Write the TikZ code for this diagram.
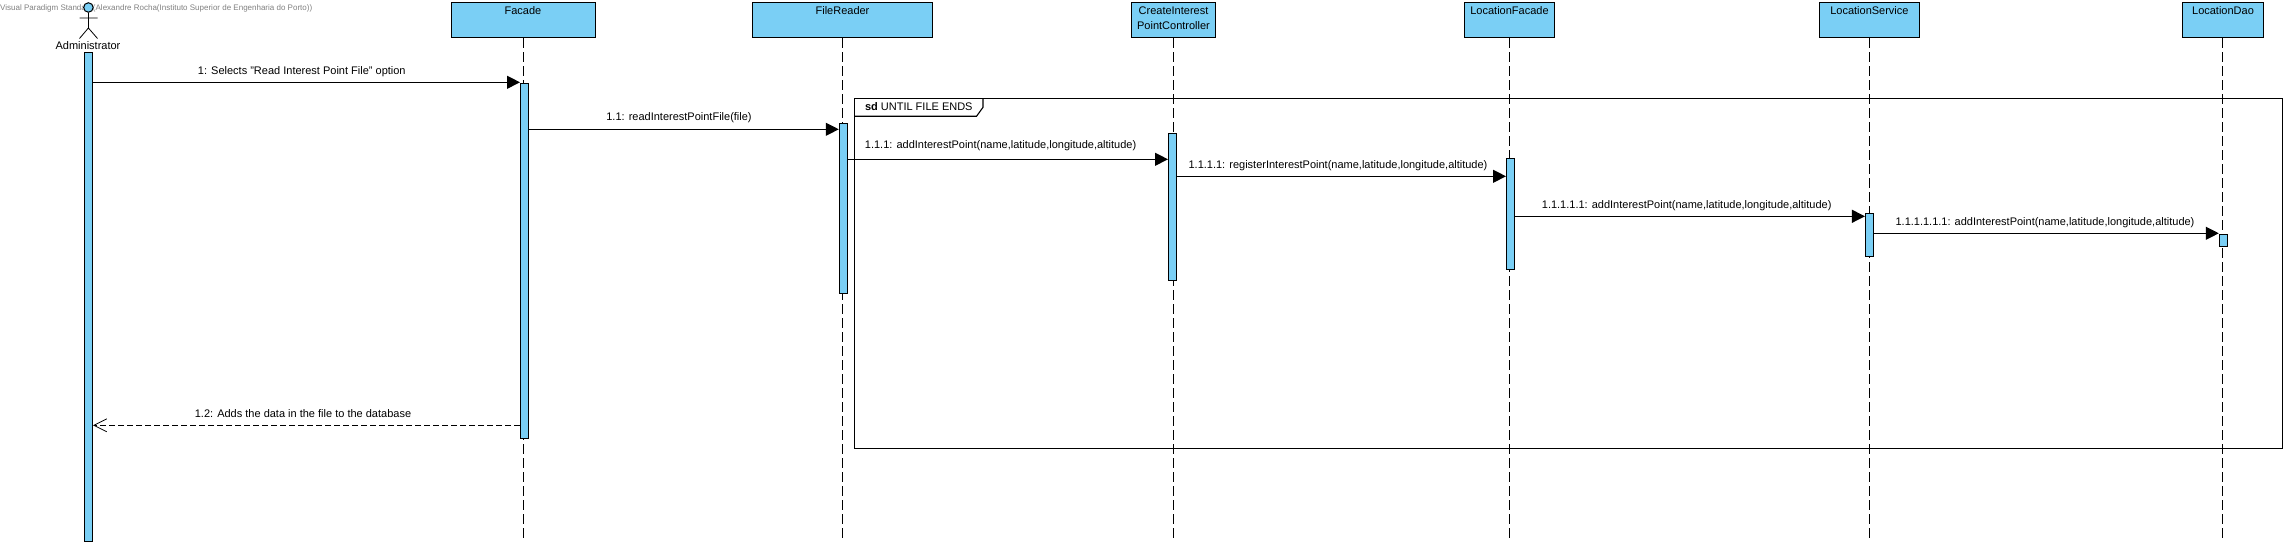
\documentclass[tikz,border=0pt]{standalone}
\usepackage{fontspec}
\setmainfont{Liberation Sans}
\usetikzlibrary{arrows.meta}
\definecolor{barblue}{RGB}{122,207,245}

\begin{document}
\begin{tikzpicture}
[x=1pt,y=-1pt,%%%%%%%%%%%%%%%%%%%%%%%%%%%%%%
box/.style={rectangle,draw=black,line width=1pt,fill=barblue,anchor=north,inner sep=0pt,
  align=center,font=\fontsize{11}{15}\selectfont,text height=12pt,text depth=23pt},
bar/.style={rectangle,draw=black,line width=1pt,fill=barblue,anchor=north,minimum width=8pt,inner sep=0pt},
life/.style={line width=0.9pt,dash pattern=on 10pt off 4pt},
msg/.style={line width=1.1pt,-{Triangle[length=13pt,width=13pt]}},
back/.style={line width=1.1pt,dash pattern=on 6pt off 3pt,-{Straight Barb[length=13pt,width=13pt,line width=0.8pt]}},
txt/.style={font=\fontsize{11}{14}\selectfont,inner sep=0pt},
]%%%%%%%%%%%%%%%%%%%%%%%%%%%%%%
\useasboundingbox (0,0) rectangle (2286,545);

\node[font=\fontsize{8}{10}\selectfont,text=gray,anchor=west,inner sep=0pt] (mark) at (0,8)
  {Visual Paradigm Standard(Alexandre Rocha(Instituto Superior de Engenharia do Porto))};

% the objects
\node[box,minimum width=144pt] (facade) at (523,2.3) {Facade};
\node[box,minimum width=180pt] (reader) at (842.5,2.3) {FileReader};
\node[box,minimum width=84pt,text height=27pt,text depth=8pt] (control) at (1173.5,2.3) {CreateInterest\\PointController};
\node[box,minimum width=90pt] (locfacade) at (1509.5,2.3) {LocationFacade};
\node[box,minimum width=100pt] (locservice) at (1869.4,2.3) {LocationService};
\node[box,minimum width=81pt] (locdao) at (2223,2.3) {LocationDao};

% the actor
\node[circle,draw=black,line width=1pt,fill=barblue,minimum size=9.5pt,inner sep=0pt] (head) at (88.4,7.5) {};
\coordinate (hip) at (88.4,28);
\coordinate (armA) at (79.5,18);
\coordinate (armB) at (97.5,18);
\coordinate (legA) at (79.5,38.5);
\coordinate (legB) at (97.5,38.5);
\draw[line width=0.8pt] (head) -- (hip) (armA) -- (armB) (legA) -- (hip) -- (legB);
\node[txt] (admin) at (88,45.7) {Administrator};

% the frame
\coordinate (frameA) at (854.6,98.3);
\coordinate (frameB) at (2282.5,448.3);
\draw[line width=1.1pt] (frameA) rectangle (frameB);
\coordinate (tabA) at (854.6,116.3);
\coordinate (tabB) at (976.5,116.3);
\coordinate (tabC) at (983,107.3);
\coordinate (tabD) at (983,98.3);
\draw[line width=1.1pt] (tabA) -- (tabB) -- (tabC) -- (tabD);
\node[txt,anchor=west] (framelabel) at (864.8,106.3) {\textbf{sd} UNTIL FILE ENDS};

% the lifelines
\foreach \obj/\x in {facade/523.7,reader/842.3,control/1173,locfacade/1509.5,locservice/1869.4,locdao/2222.3}{
\coordinate (\obj end) at (\x,541);
\draw[life] (\obj end |- \obj.south) -- (\obj end);
}

% the activations
\node[bar,minimum height=488.4pt] (adminbar) at (88.4,52.3) {};
\node[bar,minimum height=355pt] (facadebar) at (524.5,83.3) {};
\node[bar,minimum height=170pt] (readerbar) at (843.3,123.3) {};
\node[bar,minimum height=147pt] (controlbar) at (1172.5,133.3) {};
\node[bar,minimum height=111pt] (locfacadebar) at (1510.5,158.3) {};
\node[bar,minimum height=43pt] (locservicebar) at (1869.4,213.3) {};
\node[bar,minimum height=12pt] (locdaobar) at (2223.3,234.3) {};

% the messages
\foreach \from/\to/\y/\xlabel/\ylabel/\lbl in {
adminbar/facadebar/82.3/301.8/71.3/{1: Selects "Read Interest Point File" option},
facadebar/readerbar/129.3/679/117.3/{1.1: readInterestPointFile(file)},
readerbar/controlbar/159.3/1000.6/145.5/{1.1.1: addInterestPoint(name,latitude,longitude,altitude)},
controlbar/locfacadebar/176.3/1338/165.5/{1.1.1.1: registerInterestPoint(name,latitude,longitude,altitude)},
locfacadebar/locservicebar/216.3/1686.7/205.5/{1.1.1.1.1: addInterestPoint(name,latitude,longitude,altitude)},
locservicebar/locdaobar/233.3/2045/222.5/{1.1.1.1.1.1: addInterestPoint(name,latitude,longitude,altitude)}}{
\coordinate (m\from) at (0,\y);
\draw[msg] (\from.east |- m\from) -- (\to.west |- m\from);
\node[txt] at (\xlabel,\ylabel) {\lbl};
}

\coordinate (mback) at (0,425.3);
\draw[back] (facadebar.west |- mback) -- (adminbar.east |- mback);
\node[txt] (backlabel) at (303,414) {1.2: Adds the data in the file to the database};
\end{tikzpicture}
\end{document}
